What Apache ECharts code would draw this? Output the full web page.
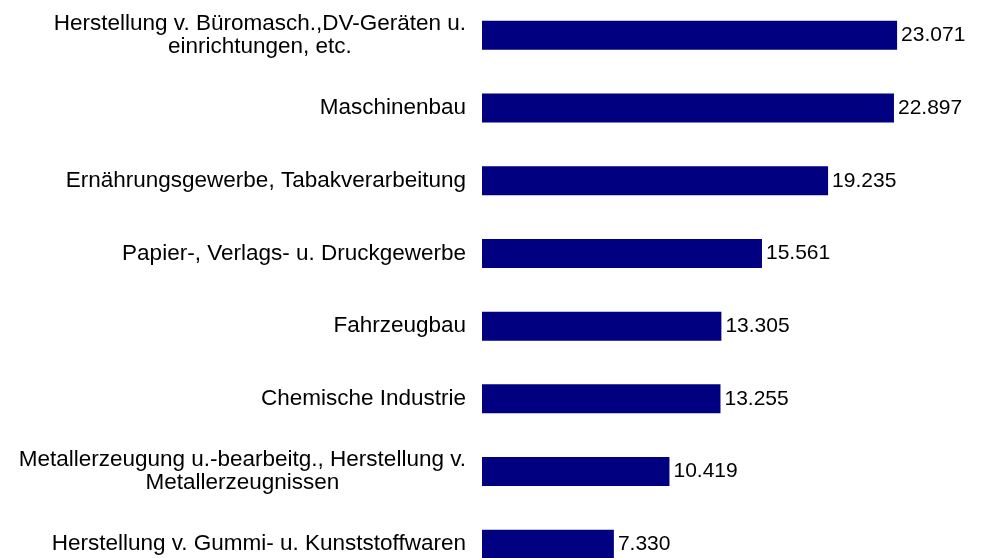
<!DOCTYPE html>
<html><head><meta charset="utf-8">
<script src="https://cdn.jsdelivr.net/npm/echarts@6/dist/echarts.min.js"></script>
<style>html,body{margin:0;padding:0;background:#fff}#c{width:982px;height:558px}</style>
</head><body><div id="c"></div>
<script>
const categories = [
  "Herstellung v. Büromasch.,DV-Geräten u.\neinrichtungen, etc.",
  "Maschinenbau",
  "Ernährungsgewerbe, Tabakverarbeitung",
  "Papier-, Verlags- u. Druckgewerbe",
  "Fahrzeugbau",
  "Chemische Industrie",
  "Metallerzeugung u.-bearbeitg., Herstellung v.\nMetallerzeugnissen",
  "Herstellung v. Gummi- u. Kunststoffwaren"
];
const values = [23071, 22897, 19235, 15561, 13305, 13255, 10419, 7330];

const fmt = v => (v/1000).toFixed(3);
const FONT = 'Liberation Sans, Arial, sans-serif';
const chart = echarts.init(document.getElementById('c'));
chart.setOption({
  animation: false,
  grid: {left: 482, top: -1, right: 50.2, bottom: -22.6, containLabel: false, outerBoundsMode: 'none'},
  xAxis: {type: 'value', min: 0, max: 25000, show: false},
  yAxis: {
    type: 'category', data: categories, inverse: true,
    axisLine: {show: false}, axisTick: {show: false},
    axisLabel: {
      margin: 16, color: '#000', fontFamily: FONT, fontSize: 22.5, lineHeight: 23, align: 'right',
      formatter: v => '{c|' + v + '}',
      rich: {c: {align: 'center', fontFamily: FONT, fontSize: 22.5, lineHeight: 23, color: '#000'}}
    }
  },
  series: [{
    type: 'bar', data: values, barWidth: 29,
    itemStyle: {color: '#000080'},
    label: {show: true, position: 'right', distance: 4, color: '#000', fontFamily: FONT, fontSize: 21, formatter: p => fmt(p.value)}
  }]
});
</script></body></html>
